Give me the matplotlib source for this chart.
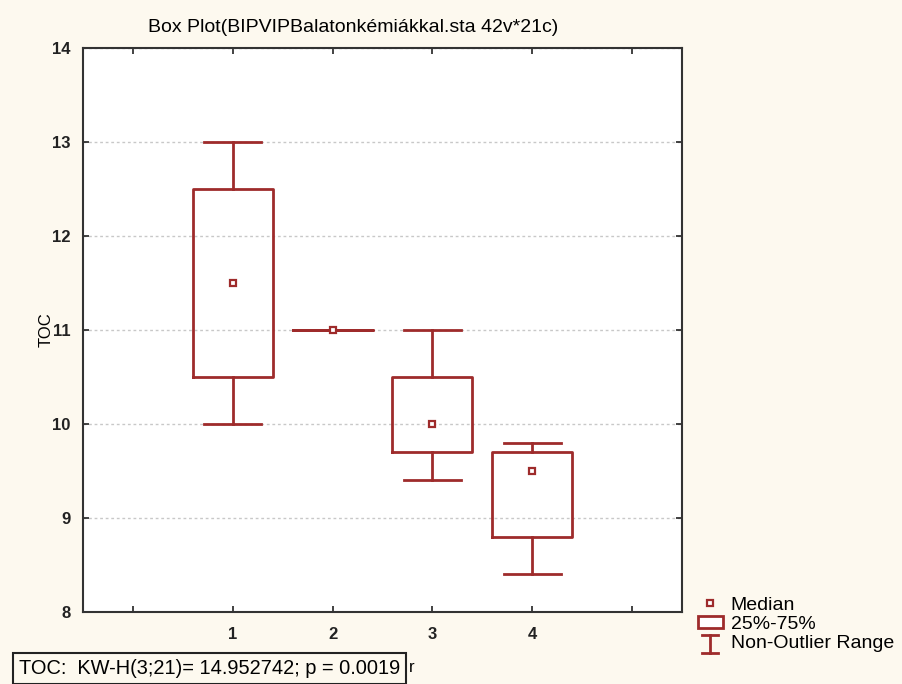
import numpy as np
import matplotlib.pyplot as plt
from matplotlib.legend_handler import HandlerBase
from matplotlib.patches import Rectangle
from matplotlib.lines import Line2D

# Box plot statistics
groups = [1, 2, 3, 4]
medians = [11.5, 11.0, 10.0, 9.5]
q1 = [10.5, 11.0, 9.7, 8.8]
q3 = [12.5, 11.0, 10.5, 9.7]
whis_lo = [10.0, 11.0, 9.4, 8.4]
whis_hi = [13.0, 11.0, 11.0, 9.8]

title = "Box Plot(BIPVIPBalatonkémiákkal.sta 42v*21c)"
stat_text = "TOC:  KW-H(3;21)= 14.952742; p = 0.0019"

red = '#9e2b2b'
bg = '#fdf9ef'

plt.rcParams['font.family'] = ['Liberation Sans', 'DejaVu Sans']

fig = plt.figure(figsize=(9.03, 6.84), dpi=100, facecolor=bg)
ax = fig.add_axes([83 / 903, 1 - 612 / 684, (682 - 83) / 903, (612 - 48) / 684])
ax.set_facecolor('white')

stats = []
for i in range(len(groups)):
    stats.append(dict(med=medians[i], q1=q1[i], q3=q3[i],
                      whislo=whis_lo[i], whishi=whis_hi[i], fliers=[]))

lp = dict(color=red, linewidth=2)
ax.bxp(stats, positions=groups, widths=0.8, capwidths=0.57,
       boxprops=lp, whiskerprops=lp, capprops=lp,
       medianprops=dict(visible=False), showfliers=False, manage_ticks=False)
ax.plot(groups, medians, linestyle='none', marker='s', markersize=5,
        markerfacecolor='white', markeredgecolor=red, markeredgewidth=1.6, zorder=5)

ax.set_xlim(-0.5, 5.5)
ax.set_ylim(8, 14)
ax.set_xticks(range(0, 6))
ax.set_xticklabels(['', '1', '2', '3', '4', ''])
ax.set_yticks(range(8, 15))
ax.tick_params(direction='in', length=4, width=1.2, top=True, right=True,
               labelsize=12, colors='#222222')
ax.tick_params(axis='x', pad=11)
ax.tick_params(axis='y', pad=9)
for lab in ax.get_xticklabels() + ax.get_yticklabels():
    lab.set_fontweight('bold')
for sp in ax.spines.values():
    sp.set_linewidth(1.5)
    sp.set_color('#333333')
ax.yaxis.grid(True, linestyle=(0, (2, 2)), color='#c8c8c8', linewidth=1)
ax.set_axisbelow(True)

ax.set_ylabel('TOC', fontsize=12, labelpad=-1)
# only the tail of the x label peeks out from behind the statistics box
ax.set_xlabel('r', fontsize=12)
ax.xaxis.set_label_coords((412 - 83) / (682 - 83), -(660 - 612) / (612 - 48))

fig.text(353 / 903, 1 - 28 / 684, title, ha='center', va='center', fontsize=14)

fig.text(19 / 903, 1 - 668 / 684, stat_text, ha='left', va='center', fontsize=14.4,
         zorder=10,
         bbox=dict(boxstyle='square,pad=0.3', facecolor=bg, edgecolor='#222222',
                   linewidth=1.5))


# legend handlers for the box and whisker symbols
class BoxHandler(HandlerBase):
    def create_artists(self, legend, orig_handle, xdescent, ydescent,
                       width, height, fontsize, trans):
        r = Rectangle((-xdescent, -ydescent), width, height,
                      facecolor='white', edgecolor=red, linewidth=2, transform=trans)
        return [r]


class WhiskerHandler(HandlerBase):
    def create_artists(self, legend, orig_handle, xdescent, ydescent,
                       width, height, fontsize, trans):
        cx = -xdescent + width / 2
        top = -ydescent + height
        bot = -ydescent - 4
        l1 = Line2D([cx - width * 0.32, cx + width * 0.32], [top, top],
                    color=red, linewidth=2, transform=trans)
        l2 = Line2D([cx, cx], [bot, top], color=red, linewidth=2, transform=trans)
        l3 = Line2D([cx - width * 0.32, cx + width * 0.32], [bot, bot],
                    color=red, linewidth=2, transform=trans)
        return [l1, l2, l3]


h_med = Line2D([], [], linestyle='none', marker='s', markersize=5,
               markerfacecolor='white', markeredgecolor=red, markeredgewidth=1.6)
h_box = Rectangle((0, 0), 1, 1)
h_whis = Line2D([], [])
fig.legend([h_med, h_box, h_whis], ['Median', '25%-75%', 'Non-Outlier Range'],
           handler_map={Rectangle: BoxHandler(), h_whis: WhiskerHandler()},
           loc='upper left', bbox_to_anchor=(688 / 903, 1 - 587 / 684),
           frameon=False, fontsize=14, handlelength=1.3, handleheight=0.6,
           handletextpad=0.4, labelspacing=0.1, borderpad=0)

fig.savefig('out.png', dpi=100, facecolor=bg)
